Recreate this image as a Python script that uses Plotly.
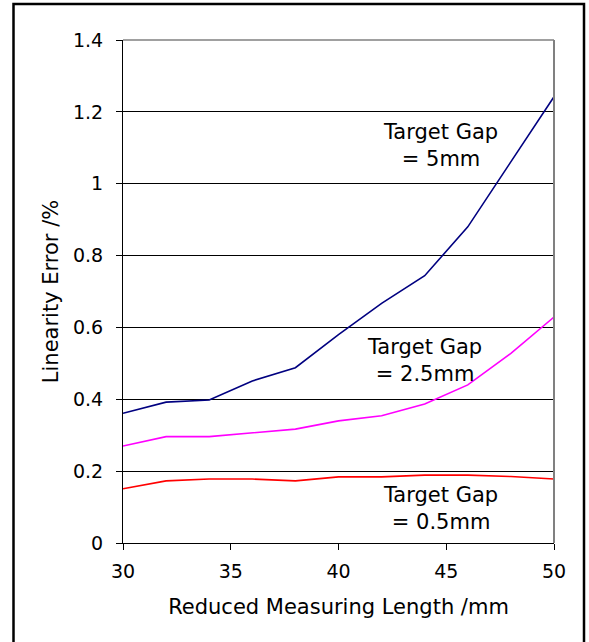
import plotly.graph_objects as go

x_vals = [30, 32, 34, 36, 38, 40, 42, 44, 46, 48, 50]
gap_5mm = [0.361, 0.392, 0.398, 0.451, 0.488, 0.580, 0.667, 0.744, 0.880, 1.060, 1.242]
gap_2_5mm = [0.270, 0.296, 0.296, 0.306, 0.317, 0.340, 0.354, 0.387, 0.440, 0.528, 0.629]
gap_0_5mm = [0.151, 0.173, 0.178, 0.178, 0.173, 0.184, 0.184, 0.189, 0.189, 0.185, 0.178]

x_ticks = [30, 35, 40, 45, 50]
y_ticks = [0, 0.2, 0.4, 0.6, 0.8, 1.0, 1.2, 1.4]
y_tick_text = ["0", "0.2", "0.4", "0.6", "0.8", "1", "1.2", "1.4"]

labels = ["Target Gap<br>= 5mm", "Target Gap<br>= 2.5mm", "Target Gap<br>= 0.5mm"]
label_x = [44.71, 43.99, 44.71]
label_y = [1.105, 0.507, 0.097]

FONT = "DejaVu Sans, Verdana, sans-serif"

fig = go.Figure()
fig.add_trace(go.Scatter(x=x_vals, y=gap_5mm, mode="lines",
                         line=dict(color="#000080", width=1.6), showlegend=False))
fig.add_trace(go.Scatter(x=x_vals, y=gap_2_5mm, mode="lines",
                         line=dict(color="#FF00FF", width=1.6), showlegend=False))
fig.add_trace(go.Scatter(x=x_vals, y=gap_0_5mm, mode="lines",
                         line=dict(color="#FF0000", width=1.6), showlegend=False))

W, H = 589, 642
L, R, T, B = 123, 35, 40, 99
pw, ph = W - L - R, H - T - B

def px(xp):
    return (xp - L) / pw

def py(yp):
    return (H - B - yp) / ph

for text, ax_, ay_ in zip(labels, label_x, label_y):
    fig.add_annotation(x=ax_, y=ay_, xref="x", yref="y",
                       xanchor="center", yanchor="middle",
                       text=text, showarrow=False, align="center",
                       font=dict(family=FONT, size=21, color="black"))

# plot-area right & top border (gray)
fig.add_shape(type="line", xref="paper", yref="paper", x0=1, x1=1, y0=0, y1=1,
              line=dict(color="#808080", width=2), layer="above")
fig.add_shape(type="line", xref="paper", yref="paper", x0=0, x1=1, y0=1, y1=1,
              line=dict(color="#808080", width=1.5), layer="above")
# outer frame
fig.add_shape(type="rect", xref="paper", yref="paper",
              x0=px(13.5), x1=px(584), y0=py(646), y1=py(4),
              line=dict(color="black", width=2.5), layer="above")

fig.update_layout(
    width=W, height=H,
    margin=dict(l=L, r=R, t=T, b=B),
    paper_bgcolor="white", plot_bgcolor="white",
    font=dict(family=FONT, size=19, color="black"),
    xaxis=dict(range=[30, 50], tickvals=x_ticks, showgrid=False,
               showline=True, linecolor="black", linewidth=1,
               ticks="outside", ticklen=6, tickcolor="black",
               ticklabelstandoff=5,
               zeroline=False, tickfont=dict(family=FONT, size=19),
               title=dict(text="Reduced Measuring Length /mm", standoff=18,
                          font=dict(family=FONT, size=21))),
    yaxis=dict(range=[0, 1.4], tickvals=y_ticks, ticktext=y_tick_text,
               showgrid=True, gridcolor="black", gridwidth=1,
               showline=True, linecolor="black", linewidth=1,
               ticks="outside", ticklen=6, tickcolor="black",
               ticklabelstandoff=9,
               zeroline=False, tickfont=dict(family=FONT, size=19),
               title=dict(text="Linearity Error /%", standoff=8,
                          font=dict(family=FONT, size=21))),
)

fig.write_html("out.html")
